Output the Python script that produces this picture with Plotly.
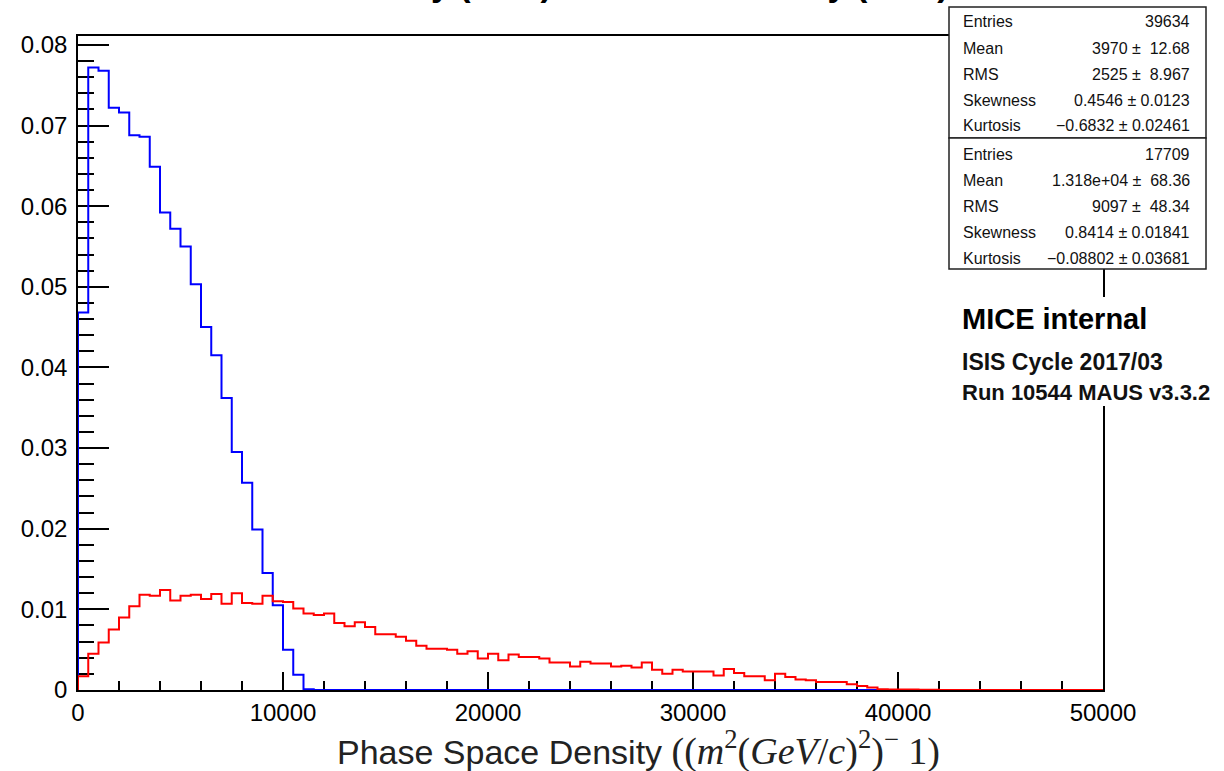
import plotly.graph_objects as go

# ---------------- data ----------------
bin_width = 500
n_bins = 100
bin_edges = [i * bin_width for i in range(n_bins + 1)]

blue_vals = [0.0468, 0.0772, 0.0768, 0.0722, 0.0716, 0.0688, 0.0686, 0.0649, 0.0592, 0.0572,
             0.0550, 0.0503, 0.0450, 0.0415, 0.0362, 0.0295, 0.0257, 0.0199, 0.0145, 0.0105,
             0.0050, 0.0019, 0.0001]
blue_vals = blue_vals + [0.0] * (n_bins - len(blue_vals))

red_vals = [0.0017, 0.0045, 0.0059, 0.0075, 0.0090, 0.0104, 0.0118, 0.0117, 0.0124, 0.0111,
            0.0117, 0.0118, 0.0113, 0.0119, 0.0107, 0.0120, 0.0108, 0.0107, 0.0117, 0.0110,
            0.0109, 0.0101, 0.0095, 0.0093, 0.0095, 0.0083, 0.0079, 0.0084, 0.0078, 0.0069,
            0.0069, 0.0066, 0.0061, 0.0055, 0.0051, 0.0051, 0.0050, 0.0045, 0.0048, 0.0039,
            0.0045, 0.0037, 0.0044, 0.0041, 0.0041, 0.0039, 0.0034, 0.0034, 0.0029, 0.0035,
            0.0033, 0.0033, 0.0029, 0.0030, 0.0028, 0.0034, 0.0025, 0.0020, 0.0025, 0.0023,
            0.0023, 0.0023, 0.0018, 0.0026, 0.0021, 0.0017, 0.0017, 0.0012, 0.0020, 0.0016,
            0.0013, 0.0012, 0.0010, 0.0010, 0.0010, 0.0007, 0.0005, 0.0003, 0.0001, 0.00005,
            0.00005, 0.00005, 0.00003, 0.00002]
red_vals = red_vals + [0.0] * (n_bins - len(red_vals))

x_tickvals = [0, 10000, 20000, 30000, 40000, 50000]
x_ticktext = ["0", "10000", "20000", "30000", "40000", "50000"]
y_tickvals = [0, 0.01, 0.02, 0.03, 0.04, 0.05, 0.06, 0.07, 0.08]
y_ticktext = ["0", "0.01", "0.02", "0.03", "0.04", "0.05", "0.06", "0.07", "0.08"]

stats_labels = ["Entries", "Mean", "RMS", "Skewness", "Kurtosis"]
stats1_values = ["39634", "3970 ±  12.68", "2525 ±  8.967", "0.4546 ± 0.0123", "−0.6832 ± 0.02461"]
stats2_values = ["17709", "1.318e+04 ±  68.36", "9097 ±  48.34", "0.8414 ± 0.01841", "−0.08802 ± 0.03681"]

title_text = "Density (TKU) and Reco Density (TKD)"
info_lines = ["MICE internal", "ISIS Cycle 2017/03", "Run 10544 MAUS v3.3.2"]

# ---------------- layout helpers ----------------
W, H = 1224, 771
L, R, T, B = 78, 1103, 36, 690


def px(x):
    return (x - L) / (R - L)


def py(y):
    return (B - y) / (B - T)


def step_xy(vals):
    xs = [bin_edges[0]] + bin_edges
    ys = [0.0] + list(vals) + [vals[-1]]
    return xs, ys


fig = go.Figure()
bx, by = step_xy(blue_vals)
rx, ry = step_xy(red_vals)
fig.add_trace(go.Scatter(x=bx, y=by, mode="lines", line=dict(color="#0000ff", width=2, shape="hv"),
                         showlegend=False, hoverinfo="skip"))
fig.add_trace(go.Scatter(x=rx, y=ry, mode="lines", line=dict(color="#ff0000", width=2, shape="hv"),
                         showlegend=False, hoverinfo="skip"))

axis_font = dict(family="Liberation Sans, Arial, sans-serif", size=24, color="black")

fig.update_xaxes(range=[0, 50000], showgrid=False, zeroline=False, showline=True, linecolor="black",
                 linewidth=1.5, mirror=True, ticks="inside", ticklen=18, tickwidth=1.5, tickcolor="black",
                 tickvals=x_tickvals, ticktext=x_ticktext, tickfont=axis_font, layer="below traces",
                 minor=dict(ticks="inside", ticklen=9, tickwidth=1.5, tickcolor="black", dtick=2000,
                            tick0=0, showgrid=False))
fig.update_yaxes(range=[0, 0.0811], showgrid=False, zeroline=False, showline=True, linecolor="black",
                 linewidth=1.5, mirror=True, ticks="inside", ticklen=31, tickwidth=1.5, tickcolor="black",
                 tickvals=y_tickvals, ticktext=y_ticktext, tickfont=axis_font, layer="below traces",
                 ticklabelstandoff=4,
                 minor=dict(ticks="inside", ticklen=16, tickwidth=1.5, tickcolor="black", dtick=0.002,
                            tick0=0, showgrid=False))

shapes = []
annotations = []

# stats boxes
box_x0, box_x1 = 949, 1206
box_tops = [7, 138]
box_bots = [138, 269]
row_y = [[22, 48, 74, 100, 126], [154, 180, 206, 232, 258]]
stats_font = dict(family="Liberation Sans, Arial, sans-serif", size=16, color="#111111")
for k, vals in enumerate([stats1_values, stats2_values]):
    shapes.append(dict(type="rect", xref="paper", yref="paper", x0=px(box_x0), x1=px(box_x1),
                       y0=py(box_bots[k]), y1=py(box_tops[k]), fillcolor="white",
                       line=dict(color="#222222", width=1.5), layer="above"))
    for lab, val, yy in zip(stats_labels, vals, row_y[k]):
        annotations.append(dict(xref="paper", yref="paper", x=px(961), y=py(yy), text=lab,
                                showarrow=False, xanchor="left", yanchor="middle", font=stats_font))
        annotations.append(dict(xref="paper", yref="paper", x=px(1192), y=py(yy), text=val,
                                showarrow=False, xanchor="right", yanchor="middle", font=stats_font))

# white pad behind MICE text
shapes.append(dict(type="rect", xref="paper", yref="paper", x0=px(955), x1=px(1222),
                   y0=py(406), y1=py(297), fillcolor="white", line=dict(width=0), layer="above"))
annotations.append(dict(xref="paper", yref="paper", x=px(960), y=py(319), text="<b>" + info_lines[0] + "</b>",
                        showarrow=False, xanchor="left", yanchor="middle",
                        font=dict(family="Liberation Sans, Arial, sans-serif", size=29, color="black")))
annotations.append(dict(xref="paper", yref="paper", x=px(960), y=py(362), text="<b>" + info_lines[1] + "</b>",
                        showarrow=False, xanchor="left", yanchor="middle",
                        font=dict(family="Liberation Sans, Arial, sans-serif", size=23, color="#111111")))
annotations.append(dict(xref="paper", yref="paper", x=px(960), y=py(392), text="<b>" + info_lines[2] + "</b>",
                        showarrow=False, xanchor="left", yanchor="middle",
                        font=dict(family="Liberation Sans, Arial, sans-serif", size=22, color="#111111")))

# title (mostly cut off at top of the picture)
annotations.append(dict(xref="paper", yref="paper", x=px(638), y=py(-16), text="<b>" + title_text + "</b>",
                        showarrow=False, xanchor="center", yanchor="middle",
                        font=dict(family="Liberation Sans, Arial, sans-serif", size=34, color="black")))

# x axis title
xtitle = ("Phase Space Density <span style='font-family:Liberation Serif;font-size:38px'>((<i>m</i><sup>2</sup>"
          "(<i>GeV</i>/<i>c</i>)<sup>2</sup>)<sup>−</sup> 1)</span>")
annotations.append(dict(xref="paper", yref="paper", x=px(638), y=py(748), text=xtitle,
                        showarrow=False, xanchor="center", yanchor="middle",
                        font=dict(family="Liberation Sans, Arial, sans-serif", size=34, color="#222222")))

fig.update_layout(width=W, height=H, margin=dict(l=L, r=W - R, t=T, b=H - B),
                  plot_bgcolor="white", paper_bgcolor="white", shapes=shapes, annotations=annotations,
                  showlegend=False)

fig.write_html("out.html")
